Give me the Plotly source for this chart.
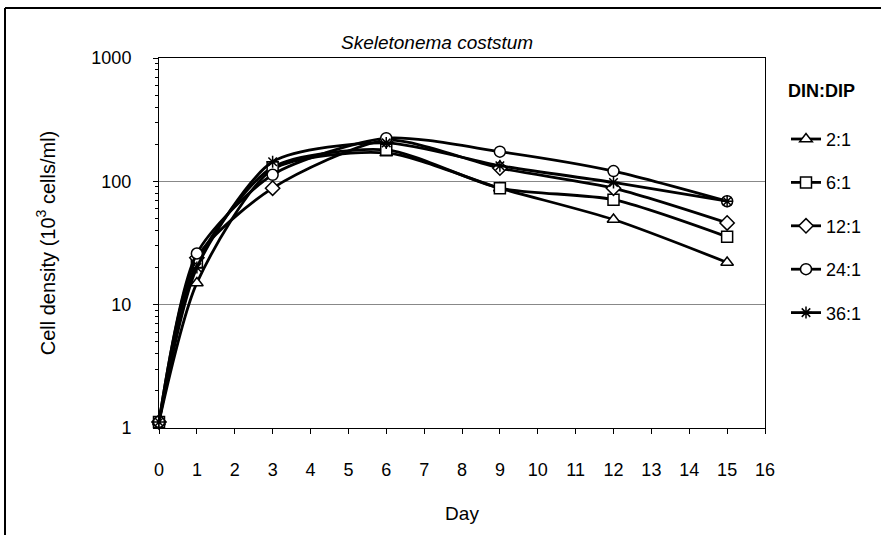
import plotly.graph_objects as go

days = [0, 1, 3, 6, 9, 12, 15]
series_names = ["2:1", "6:1", "12:1", "24:1", "36:1"]
v_2 = [1.12, 15, 125, 170, 88, 49, 22]
v_6 = [1.12, 22, 130, 180, 88, 71, 35.5]
v_12 = [1.12, 24, 88, 215, 128, 88, 46]
v_24 = [1.12, 26, 113, 224, 174, 121, 69]
v_36 = [1.12, 20, 144, 205, 134, 98, 69]
values = [v_2, v_6, v_12, v_24, v_36]
symbols = ["triangle-up", "square", "diamond", "circle", "asterisk"]
x_ticks = list(range(0, 17))
y_ticks = [1, 10, 100, 1000]
y_minor = [m * d for d in (1, 10, 100) for m in range(2, 10)]

W, H = 881, 535
L, R, T, B = 159, 116, 58, 107
pw, ph = W - L - R, H - T - B

def px(x):
    return (x - L) / pw

def py(y):
    return (H - B - y) / ph

fig = go.Figure()
for name, vals, sym in zip(series_names, values, symbols):
    is_star = sym == "asterisk"
    fig.add_trace(go.Scatter(
        x=days, y=vals, name=name, mode="lines+markers",
        line=dict(color="black", width=2.8, shape="spline", smoothing=0.7),
        marker=dict(symbol=sym, size=11 if not is_star else 10,
                    color="white" if not is_star else "black",
                    line=dict(color="black", width=1.5)),
        cliponaxis=False, legendgroup=name,
    ))

fig.update_layout(
    width=W, height=H,
    margin=dict(l=L, r=R, t=T, b=B),
    paper_bgcolor="white", plot_bgcolor="white",
    font=dict(family="Liberation Sans, Arial", size=18, color="black"),
    showlegend=True,
    legend=dict(x=px(786), y=py(74), xanchor="left", yanchor="top",
                title=dict(text="<b>DIN:DIP</b><br> ", font=dict(size=18), side="top"),
                font=dict(size=18), tracegroupgap=17, itemwidth=30,
                bgcolor="rgba(0,0,0,0)"),
    xaxis=dict(range=[0, 16], tickvals=x_ticks, ticks="outside", ticklen=5,
               tickcolor="black", showline=True, linecolor="black", linewidth=1,
               mirror=True, showgrid=False, zeroline=False,
               ticklabelstandoff=20,
               title=dict(text="Day", font=dict(size=19), standoff=28),
               tickfont=dict(size=18)),
    yaxis=dict(type="log", range=[0, 3], tickvals=y_ticks,
               ticktext=[str(v) for v in y_ticks], ticks="outside", ticklen=5,
               tickcolor="black", showline=True, linecolor="black", linewidth=1,
               mirror=True, showgrid=True, gridcolor="#888888", gridwidth=1,
               ticklabelstandoff=18,
               minor=dict(tickvals=y_minor, ticks="outside", ticklen=3,
                          tickcolor="black", showgrid=False),
               title=dict(text="Cell density (10<sup>3</sup> cells/ml)", font=dict(size=20), standoff=30),
               tickfont=dict(size=18)),
    annotations=[dict(text="<i>Skeletonema coststum</i>", xref="paper", yref="paper",
                      x=px(437), y=py(42), showarrow=False, font=dict(size=19),
                      xanchor="center", yanchor="middle")],
    shapes=[dict(type="line", xref="paper", yref="paper",
                 x0=px(5), x1=px(5), y0=py(535), y1=py(8),
                 line=dict(color="black", width=2), layer="below"),
            dict(type="line", xref="paper", yref="paper",
                 x0=px(5), x1=px(881), y0=py(8), y1=py(8),
                 line=dict(color="black", width=2), layer="below")],
)

fig.write_html("out.html")
